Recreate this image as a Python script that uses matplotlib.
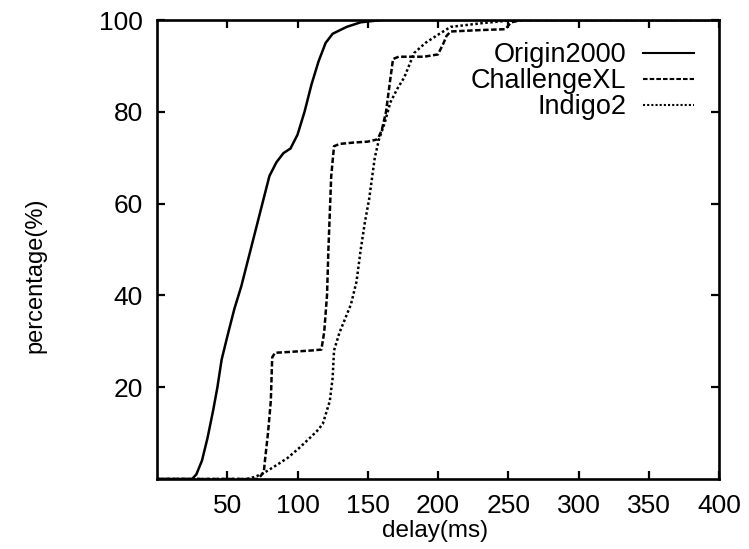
import matplotlib
matplotlib.use("Agg")
import matplotlib.pyplot as plt

# Data (delay in ms, cumulative percentage)
origin_x = [0, 25, 28, 32, 36, 40, 43, 46, 50, 55, 60, 65, 70, 75, 80, 85, 90, 95,
            100, 105, 110, 115, 120, 125, 135, 145, 160, 200, 400]
origin_y = [0, 0, 1, 4, 9, 15, 20, 26, 31, 37, 42, 48, 54, 60, 66, 69, 71, 72,
            75, 80, 86, 91, 95, 97, 98.5, 99.5, 100, 100, 100]

challenge_x = [0, 72, 76, 77, 79, 81, 82, 84, 90, 100, 110, 117, 119, 121, 122, 123,
               124, 126, 130, 140, 150, 157, 160, 163, 166, 168, 172, 181, 190, 200,
               204, 206, 209, 230, 248, 252, 260, 400]
challenge_y = [0, 0, 1.5, 4.5, 10, 17, 26.5, 27.5, 27.6, 27.8, 28, 28.2, 32, 40, 50, 58,
               66, 72.5, 73, 73.3, 73.5, 74, 76, 80, 87, 91.5, 92, 92, 92, 92.5,
               95, 96.5, 97.5, 97.8, 98, 99.5, 100, 100]

indigo_x = [0, 64, 70, 76, 85, 93, 101, 109, 114, 118, 121, 123, 125, 126, 128, 130,
            134, 138, 142, 145, 148, 151, 155, 158, 162, 166, 171, 176, 183, 191, 199,
            209, 231, 248, 260, 400]
indigo_y = [0, 0, 0.5, 1.3, 3, 4.6, 6.7, 9, 10.5, 12, 15, 17, 22, 28, 30, 32,
            35, 38, 43, 50, 56, 61, 70, 74, 77.5, 82, 85, 87.5, 92.8, 95, 96.6,
            98.5, 99.3, 99.8, 100, 100]

series_names = ["Origin2000", "ChallengeXL", "Indigo2"]
x_ticks = [50, 100, 150, 200, 250, 300, 350, 400]
y_ticks = [20, 40, 60, 80, 100]

plt.rcParams['font.family'] = ['Liberation Sans', 'DejaVu Sans']

fig = plt.figure(figsize=(7.49, 5.49), dpi=100)
W, H = 749, 549
left, right, top, bottom = 157, 719, 20, 479
ax = fig.add_axes([left / W, 1 - bottom / H, (right - left) / W, (bottom - top) / H])

lw = 1.8
ax.plot(origin_x, origin_y, color='black', lw=lw, ls='-', label=series_names[0])
ax.plot(challenge_x, challenge_y, color='black', lw=lw, ls=(0, (2.2, 1.0)), label=series_names[1])
ax.plot(indigo_x, indigo_y, color='black', lw=lw, ls=(0, (1.0, 1.0)), label=series_names[2])

ax.set_xlim(0, 400)
ax.set_ylim(0, 100)
ax.set_xticks(x_ticks)
ax.set_yticks(y_ticks)
ax.set_xticklabels([str(v) for v in x_ticks])
ax.set_yticklabels([str(v) for v in y_ticks])

for s in ax.spines.values():
    s.set_linewidth(1.9)
    s.set_color('black')

ax.tick_params(axis='both', which='both', direction='in', length=6, width=1.6,
               top=True, right=True, labelsize=19, colors='black')
ax.tick_params(axis='x', pad=11)
ax.tick_params(axis='y', pad=10)

ax.set_xlabel("delay(ms)", fontsize=17.5)
ax.set_ylabel("percentage(%)", fontsize=17)
ax.xaxis.set_label_coords((435 - left) / (right - left), -(520 - bottom) / (bottom - top))
ax.yaxis.set_label_coords((46 - left) / (right - left), (bottom - 275) / (bottom - top))

leg = ax.legend(loc='upper right', frameon=False, markerfirst=False,
                prop={'size': 19.5}, handlelength=1.9, handletextpad=0.6,
                labelspacing=0.0,
                bbox_to_anchor=((694 - left) / (right - left), (bottom - 42) / (bottom - top)),
                borderaxespad=0.0, borderpad=0.0)
for line in leg.get_lines():
    line.set_linewidth(1.5)

fig.savefig("out.png", dpi=100, facecolor='white')
